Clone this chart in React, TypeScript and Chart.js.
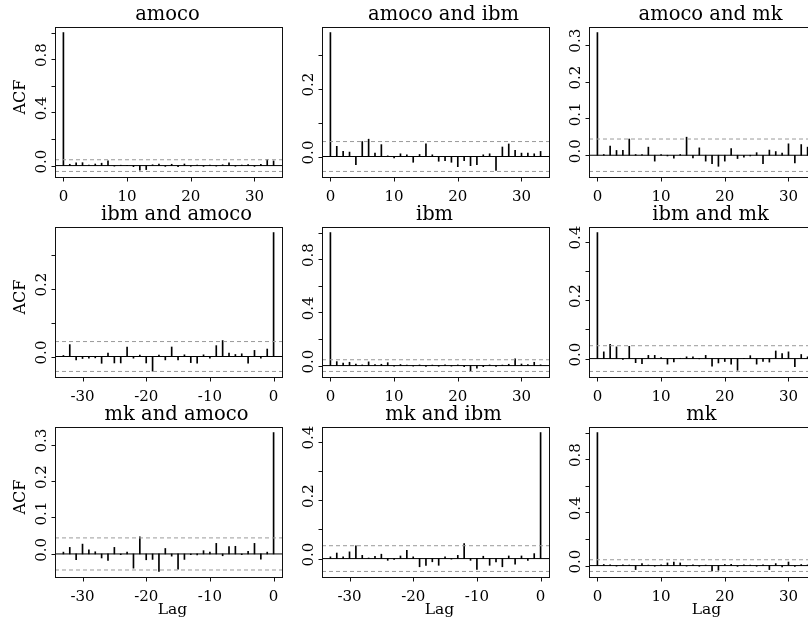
import React, { useEffect, useRef } from "react";
import { Chart, registerables } from "chart.js";
Chart.register(...registerables);

// ---- data ----
const lagsPos = [0,1,2,3,4,5,6,7,8,9,10,11,12,13,14,15,16,17,18,19,20,21,22,23,24,25,26,27,28,29,30,31,32,33];
const lagsNeg = [-33,-32,-31,-30,-29,-28,-27,-26,-25,-24,-23,-22,-21,-20,-19,-18,-17,-16,-15,-14,-13,-12,-11,-10,-9,-8,-7,-6,-5,-4,-3,-2,-1,0];

const acfAmoco = [1, 0.01, 0.02, 0.022, 0.004, 0.012, 0.018, 0.035, -0.004, 0.003, 0.002, -0.008, -0.035, -0.03, 0.006, 0.012, -0.006, 0.01, -0.008, 0.012, -0.005, 0.004, -0.006, 0.003, -0.004, 0.006, 0.02, -0.005, 0.004, 0.008, -0.006, 0.01, 0.045, 0.035];
const acfAmocoIbm = [0.365, 0.030, 0.015, 0.013, -0.024, 0.044, 0.051, 0.010, 0.035, 0.002, -0.004, 0.008, 0.005, -0.017, 0.006, 0.037, 0.005, -0.014, -0.012, -0.017, -0.030, -0.012, -0.027, -0.024, 0.005, 0.008, -0.041, 0.028, 0.037, 0.018, 0.010, 0.010, 0.008, 0.015];
const acfAmocoMk = [0.333, 0.002, 0.025, 0.013, 0.013, 0.044, 0.002, 0.002, 0.022, -0.016, 0.002, -0.002, -0.008, 0.002, 0.049, -0.007, 0.020, -0.016, -0.023, -0.030, -0.016, 0.018, -0.009, -0.005, -0.002, 0.007, -0.023, 0.014, 0.010, 0.006, 0.031, -0.021, 0.029, 0.022];
const acfIbmAmoco = [0.003, 0.035, -0.010, -0.006, -0.005, -0.004, -0.020, 0.010, -0.019, -0.019, 0.028, -0.005, 0.004, -0.019, -0.043, 0.004, -0.010, 0.028, -0.010, 0.005, -0.018, -0.020, 0.005, -0.005, 0.032, 0.047, 0.010, 0.006, 0.008, -0.020, 0.018, -0.005, 0.022, 0.365];
const acfIbm = [1, 0.03, 0.018, 0.025, 0.012, 0.005, 0.028, 0.008, 0.01, 0.022, -0.005, 0.008, 0.004, -0.004, 0.005, -0.006, 0.004, -0.005, 0.006, -0.004, 0.005, -0.008, -0.04, -0.02, -0.008, 0.005, -0.006, 0.004, 0.01, 0.05, 0.012, 0.008, 0.025, 0.006];
const acfIbmMk = [0.431, 0.023, 0.049, 0.040, -0.003, 0.042, -0.014, -0.017, 0.011, 0.011, 0.003, -0.019, -0.011, 0.001, 0.006, 0.006, -0.001, 0.011, -0.026, -0.015, -0.010, -0.019, -0.040, 0.001, 0.010, -0.019, -0.010, -0.012, 0.026, 0.017, 0.023, -0.028, 0.014, 0.006];
const acfMkAmoco = [0.005, 0.018, -0.016, 0.027, 0.011, 0.006, -0.011, -0.018, 0.018, -0.002, 0.005, -0.039, 0.047, -0.016, -0.015, -0.048, 0.015, -0.006, -0.042, -0.015, -0.002, -0.003, 0.009, 0.005, 0.029, -0.005, 0.020, 0.021, -0.002, 0.007, 0.029, -0.014, 0.005, 0.333];
const acfMkIbm = [0.006, 0.019, 0.006, 0.023, 0.044, 0.011, 0.002, 0.008, 0.015, -0.006, -0.003, 0.009, 0.028, 0.006, -0.028, -0.023, -0.011, -0.023, 0.006, -0.002, 0.011, 0.051, -0.006, -0.037, 0.008, -0.023, -0.011, -0.028, 0.009, -0.019, 0.009, -0.006, 0.017, 0.431];
const acfMk = [1, 0.008, 0.005, -0.004, 0.006, 0.004, -0.03, 0.015, 0.004, -0.005, 0.006, 0.02, 0.027, 0.02, -0.004, 0.006, -0.005, 0.004, -0.04, -0.035, 0.008, 0.01, -0.006, 0.005, 0.004, -0.005, 0.006, -0.03, 0.015, -0.01, 0.027, -0.006, 0.008, 0.005];

const ciLimit = 0.044;

const xTicksPos = [0, 10, 20, 30];
const xTicksNeg = [-30, -20, -10, 0];
const yTicksUnit = [0, 0.2, 0.4, 0.6, 0.8, 1.0];
const yLabelsUnit = [0, 0.4, 0.8];
const yTicksTenth3 = [0, 0.1, 0.2, 0.3];
const yLabelsEven3 = [0, 0.2];
const yLabelsAll3 = [0, 0.1, 0.2, 0.3];
const yTicksTenth4 = [0, 0.1, 0.2, 0.3, 0.4];
const yLabelsEven4 = [0, 0.2, 0.4];

const titles = ["amoco", "amoco and ibm", "amoco and mk", "ibm and amoco", "ibm", "ibm and mk", "mk and amoco", "mk and ibm", "mk"];

// ---- layout ----
const PLOT_W = 227;
const PLOT_H = 150;
const PAD_L = 55;
const PAD_T = 27;
const CANVAS_W = 300;
const CANVAS_H = 222;
const colLeft = [55, 322, 589];
const rowTop = [27, 227, 427];

type PanelProps = {
  title: string;
  lags: number[];
  values: number[];
  xTicks: number[];
  yTicks: number[];
  yLabels: number[];
  showYLab: boolean;
  showXLab: boolean;
  left: number;
  top: number;
};

const SERIF = '"DejaVu Serif", serif';

function Panel(p: PanelProps) {
  const ref = useRef<HTMLCanvasElement | null>(null);
  useEffect(() => {
    const canvas = ref.current!;
    const xmin0 = Math.min(...p.lags), xmax0 = Math.max(...p.lags);
    const xext = 0.04 * (xmax0 - xmin0);
    const ymin0 = Math.min(Math.min(...p.values), -ciLimit);
    const ymax0 = Math.max(Math.max(...p.values), ciLimit);
    const yext = 0.04 * (ymax0 - ymin0);
    const xmin = xmin0 - xext, xmax = xmax0 + xext;

    const decor = {
      id: "rdecor",
      afterDraw(chart: any) {
        const ctx = chart.ctx as CanvasRenderingContext2D;
        const a = chart.chartArea;
        const xs = chart.scales.x, ys = chart.scales.y;
        ctx.save();
        // box
        ctx.strokeStyle = "#111";
        ctx.lineWidth = 1;
        const bx = Math.round(a.bottom) + 0.5;
        const lx = Math.round(a.left) + 0.5;
        ctx.strokeRect(lx, Math.round(a.top) + 0.5, Math.round(a.right - a.left), Math.round(a.bottom - a.top));
        // tick marks
        ctx.beginPath();
        for (const t of p.xTicks) {
          const x = Math.round(xs.getPixelForValue(t)) + 0.5;
          ctx.moveTo(x, bx);
          ctx.lineTo(x, bx + 4);
        }
        for (const t of p.yTicks) {
          const y = Math.round(ys.getPixelForValue(t)) + 0.5;
          ctx.moveTo(lx, y);
          ctx.lineTo(lx - 4, y);
        }
        ctx.stroke();
        // labels
        ctx.fillStyle = "#000";
        ctx.font = `15px ${SERIF}`;
        ctx.textAlign = "center";
        ctx.textBaseline = "alphabetic";
        for (const t of p.xTicks) {
          ctx.fillText(String(t), xs.getPixelForValue(t), a.bottom + 23.5);
        }
        for (const t of p.yLabels) {
          const y = ys.getPixelForValue(t);
          ctx.save();
          ctx.translate(a.left - 9.5, y - 4);
          ctx.rotate(-Math.PI / 2);
          ctx.fillText(t.toFixed(1), 0, 0);
          ctx.restore();
        }
        const cx = (a.left + a.right) / 2;
        if (p.showYLab) {
          ctx.save();
          ctx.font = `16px ${SERIF}`;
          ctx.translate(a.left - 30, a.top + 70);
          ctx.rotate(-Math.PI / 2);
          ctx.fillText("ACF", 0, 0);
          ctx.restore();
        }
        if (p.showXLab) {
          ctx.font = `15.5px ${SERIF}`;
          ctx.fillText("Lag", cx + 4, a.bottom + 37);
        }
        // title
        const spaces = (p.title.match(/ /g) || []).length;
        ctx.font = `19.5px ${SERIF}`;
        ctx.fillText(p.title, cx - 1 + 4.5 * spaces, a.top - 7);
        ctx.restore();
      },
    };

    const chart = new Chart(canvas, {
      type: "bar",
      data: {
        datasets: [
          {
            type: "bar",
            data: p.lags.map((l, i) => ({ x: l, y: p.values[i] })),
            backgroundColor: "#000",
            borderWidth: 0,
            barThickness: 1,
            order: 1,
          } as any,
          {
            type: "line",
            data: [{ x: xmin, y: 0 }, { x: xmax, y: 0 }],
            borderColor: "#000",
            borderWidth: 1,
            pointRadius: 0,
            order: 0,
          } as any,
          {
            type: "line",
            data: [{ x: xmin, y: ciLimit }, { x: xmax, y: ciLimit }],
            borderColor: "#9a9a9a",
            borderWidth: 1,
            borderDash: [4, 3],
            pointRadius: 0,
            order: 0,
          } as any,
          {
            type: "line",
            data: [{ x: xmin, y: -ciLimit }, { x: xmax, y: -ciLimit }],
            borderColor: "#9a9a9a",
            borderWidth: 1,
            borderDash: [4, 3],
            pointRadius: 0,
            order: 0,
          } as any,
        ],
      },
      options: {
        responsive: false,
        animation: false,
        devicePixelRatio: 1,
        events: [],
        layout: {
          padding: { left: PAD_L, top: PAD_T, right: CANVAS_W - PAD_L - PLOT_W, bottom: CANVAS_H - PAD_T - PLOT_H },
        },
        plugins: { legend: { display: false }, tooltip: { enabled: false }, title: { display: false } },
        scales: {
          x: { type: "linear", display: false, min: xmin, max: xmax, offset: false },
          y: { type: "linear", display: false, min: ymin0 - yext, max: ymax0 + yext },
        },
      },
      plugins: [decor],
    } as any);
    return () => chart.destroy();
  }, []);
  return (
    <canvas
      ref={ref}
      width={CANVAS_W}
      height={CANVAS_H}
      style={{ position: "absolute", left: p.left - PAD_L, top: p.top - PAD_T, width: CANVAS_W, height: CANVAS_H }}
    />
  );
}

export default function App() {
  const panels: PanelProps[] = [
    { title: titles[0], lags: lagsPos, values: acfAmoco, xTicks: xTicksPos, yTicks: yTicksUnit, yLabels: yLabelsUnit, showYLab: true, showXLab: false, left: colLeft[0], top: rowTop[0] },
    { title: titles[1], lags: lagsPos, values: acfAmocoIbm, xTicks: xTicksPos, yTicks: yTicksTenth3, yLabels: yLabelsEven3, showYLab: false, showXLab: false, left: colLeft[1], top: rowTop[0] },
    { title: titles[2], lags: lagsPos, values: acfAmocoMk, xTicks: xTicksPos, yTicks: yTicksTenth3, yLabels: yLabelsAll3, showYLab: false, showXLab: false, left: colLeft[2], top: rowTop[0] },
    { title: titles[3], lags: lagsNeg, values: acfIbmAmoco, xTicks: xTicksNeg, yTicks: yTicksTenth3, yLabels: yLabelsEven3, showYLab: true, showXLab: false, left: colLeft[0], top: rowTop[1] },
    { title: titles[4], lags: lagsPos, values: acfIbm, xTicks: xTicksPos, yTicks: yTicksUnit, yLabels: yLabelsUnit, showYLab: false, showXLab: false, left: colLeft[1], top: rowTop[1] },
    { title: titles[5], lags: lagsPos, values: acfIbmMk, xTicks: xTicksPos, yTicks: yTicksTenth4, yLabels: yLabelsEven4, showYLab: false, showXLab: false, left: colLeft[2], top: rowTop[1] },
    { title: titles[6], lags: lagsNeg, values: acfMkAmoco, xTicks: xTicksNeg, yTicks: yTicksTenth3, yLabels: yLabelsAll3, showYLab: true, showXLab: true, left: colLeft[0], top: rowTop[2] },
    { title: titles[7], lags: lagsNeg, values: acfMkIbm, xTicks: xTicksNeg, yTicks: yTicksTenth4, yLabels: yLabelsEven4, showYLab: false, showXLab: true, left: colLeft[1], top: rowTop[2] },
    { title: titles[8], lags: lagsPos, values: acfMk, xTicks: xTicksPos, yTicks: yTicksUnit, yLabels: yLabelsUnit, showYLab: false, showXLab: true, left: colLeft[2], top: rowTop[2] },
  ];
  return (
    <div style={{ position: "fixed", left: 0, top: 0, width: 808, height: 622, overflow: "hidden", background: "#fff" }}>
      {panels.map((p, i) => (
        <Panel key={i} {...p} />
      ))}
    </div>
  );
}
